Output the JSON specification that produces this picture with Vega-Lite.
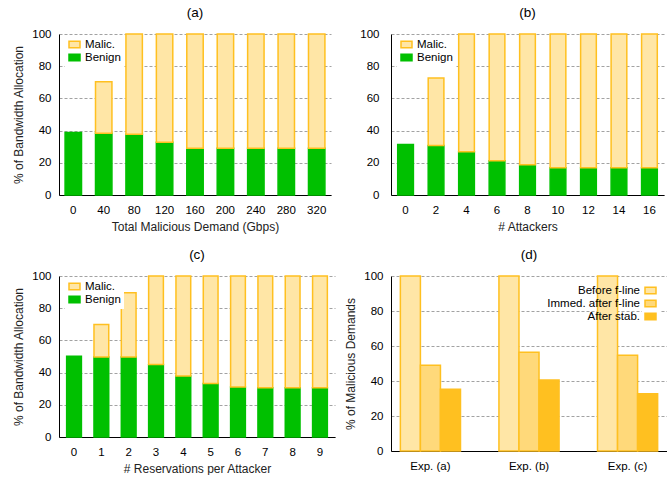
{
  "$schema": "https://vega.github.io/schema/vega-lite/v6.json",
  "padding": {"left": 12, "top": 5, "right": 0, "bottom": 0},
  "bounds": "flush",
  "columns": 2,
  "spacing": {"row": 81, "column": 56},
  "resolve": {"scale": {"fill": "independent", "stroke": "independent", "y": "independent", "x": "independent"}, "legend": {"fill": "independent", "stroke": "independent"}},
  "config": {
    "font": "Liberation Sans",
    "view": {"stroke": null},
    "title": {"fontSize": 13.5, "fontWeight": "normal", "color": "#000", "offset": 9},
    "axis": {
      "labelFontSize": 11.5, "titleFontSize": 12, "titleFontWeight": "normal",
      "labelColor": "#000", "titleColor": "#222", "domainColor": "#000", "domainWidth": 1,
      "ticks": false, "gridColor": "#8a8a8a", "gridDash": [3, 2], "gridWidth": 0.8
    },
    "axisX": {"grid": false, "labelPadding": 9, "titlePadding": 6, "labelAngle": 0},
    "axisY": {"labelPadding": 8, "titlePadding": 6},
    "legend": {"labelFontSize": 11.5, "labelColor": "#000", "fillColor": "#fff", "rowPadding": 0, "symbolStrokeWidth": 1.5}
  },
  "datasets": {
    "a": [
      {"x": "0", "s": "Benign", "v": 38.8},
      {"x": "40", "s": "Benign", "v": 38.4}, {"x": "40", "s": "Malic.", "v": 31.9},
      {"x": "80", "s": "Benign", "v": 37.7}, {"x": "80", "s": "Malic.", "v": 62.3},
      {"x": "120", "s": "Benign", "v": 32.8}, {"x": "120", "s": "Malic.", "v": 67.2},
      {"x": "160", "s": "Benign", "v": 29}, {"x": "160", "s": "Malic.", "v": 71},
      {"x": "200", "s": "Benign", "v": 29}, {"x": "200", "s": "Malic.", "v": 71},
      {"x": "240", "s": "Benign", "v": 29}, {"x": "240", "s": "Malic.", "v": 71},
      {"x": "280", "s": "Benign", "v": 29}, {"x": "280", "s": "Malic.", "v": 71},
      {"x": "320", "s": "Benign", "v": 29}, {"x": "320", "s": "Malic.", "v": 71}
    ],
    "b": [
      {"x": "0", "s": "Benign", "v": 31.3},
      {"x": "2", "s": "Benign", "v": 30.7}, {"x": "2", "s": "Malic.", "v": 41.9},
      {"x": "4", "s": "Benign", "v": 26.8}, {"x": "4", "s": "Malic.", "v": 73.2},
      {"x": "6", "s": "Benign", "v": 21.2}, {"x": "6", "s": "Malic.", "v": 78.8},
      {"x": "8", "s": "Benign", "v": 18.8}, {"x": "8", "s": "Malic.", "v": 81.2},
      {"x": "10", "s": "Benign", "v": 17}, {"x": "10", "s": "Malic.", "v": 83},
      {"x": "12", "s": "Benign", "v": 17}, {"x": "12", "s": "Malic.", "v": 83},
      {"x": "14", "s": "Benign", "v": 17}, {"x": "14", "s": "Malic.", "v": 83},
      {"x": "16", "s": "Benign", "v": 17}, {"x": "16", "s": "Malic.", "v": 83}
    ],
    "c": [
      {"x": "0", "s": "Benign", "v": 50.1},
      {"x": "1", "s": "Benign", "v": 49.7}, {"x": "1", "s": "Malic.", "v": 20.1},
      {"x": "2", "s": "Benign", "v": 49.7}, {"x": "2", "s": "Malic.", "v": 39.9},
      {"x": "3", "s": "Benign", "v": 45.1}, {"x": "3", "s": "Malic.", "v": 54.9},
      {"x": "4", "s": "Benign", "v": 37.9}, {"x": "4", "s": "Malic.", "v": 62.1},
      {"x": "5", "s": "Benign", "v": 33.3}, {"x": "5", "s": "Malic.", "v": 66.7},
      {"x": "6", "s": "Benign", "v": 31.1}, {"x": "6", "s": "Malic.", "v": 68.9},
      {"x": "7", "s": "Benign", "v": 30.6}, {"x": "7", "s": "Malic.", "v": 69.4},
      {"x": "8", "s": "Benign", "v": 30.6}, {"x": "8", "s": "Malic.", "v": 69.4},
      {"x": "9", "s": "Benign", "v": 30.6}, {"x": "9", "s": "Malic.", "v": 69.4}
    ],
    "d": [
      {"exp": "Exp. (a)", "s": "Before f-line", "v": 100},
      {"exp": "Exp. (a)", "s": "Immed. after f-line", "v": 49},
      {"exp": "Exp. (a)", "s": "After stab.", "v": 35.3},
      {"exp": "Exp. (b)", "s": "Before f-line", "v": 100},
      {"exp": "Exp. (b)", "s": "Immed. after f-line", "v": 56.4},
      {"exp": "Exp. (b)", "s": "After stab.", "v": 40.6},
      {"exp": "Exp. (c)", "s": "Before f-line", "v": 100},
      {"exp": "Exp. (c)", "s": "Immed. after f-line", "v": 54.7},
      {"exp": "Exp. (c)", "s": "After stab.", "v": 32.7}
    ]
  },
  "concat": [
    {
      "width": 272, "height": 161,
      "title": "(a)",
      "data": {"name": "a"},
      "mark": {"type": "bar", "strokeWidth": 1.5},
      "encoding": {
        "x": {"field": "x", "type": "ordinal", "sort": null, "scale": {"paddingInner": 0.46, "paddingOuter": 0.2}, "axis": {"title": "Total Malicious Demand (Gbps)"}},
        "y": {"field": "v", "type": "quantitative", "stack": "zero", "scale": {"domain": [0, 100], "nice": false}, "axis": {"title": "% of Bandwidth Allocation", "values": [0, 20, 40, 60, 80, 100]}},
        "fill": {"field": "s", "type": "nominal", "scale": {"domain": ["Malic.", "Benign"], "range": ["#ffe6a6", "#00c000"]}, "legend": {"title": null, "orient": "none", "legendX": 6, "legendY": 1, "padding": 3, "symbolType": "M-1,-0.6H1V0.6H-1Z", "symbolSize": 121}},
        "stroke": {"field": "s", "type": "nominal", "scale": {"domain": ["Malic.", "Benign"], "range": ["#ffc020", "#00c000"]}, "legend": {"title": null, "orient": "none", "legendX": 6, "legendY": 1, "padding": 3, "symbolType": "M-1,-0.6H1V0.6H-1Z", "symbolSize": 121}},
        "order": {"field": "s", "sort": "ascending"}
      }
    },
    {
      "width": 273, "height": 161,
      "title": "(b)",
      "data": {"name": "b"},
      "mark": {"type": "bar", "strokeWidth": 1.5},
      "encoding": {
        "x": {"field": "x", "type": "ordinal", "sort": null, "scale": {"paddingInner": 0.485, "paddingOuter": 0.22}, "axis": {"title": "# Attackers"}},
        "y": {"field": "v", "type": "quantitative", "stack": "zero", "scale": {"domain": [0, 100], "nice": false}, "axis": {"title": null, "values": [0, 20, 40, 60, 80, 100], "labelPadding": 12}},
        "fill": {"field": "s", "type": "nominal", "scale": {"domain": ["Malic.", "Benign"], "range": ["#ffe6a6", "#00c000"]}, "legend": {"title": null, "orient": "none", "legendX": 6, "legendY": 1, "padding": 3, "symbolType": "M-1,-0.6H1V0.6H-1Z", "symbolSize": 121}},
        "stroke": {"field": "s", "type": "nominal", "scale": {"domain": ["Malic.", "Benign"], "range": ["#ffc020", "#00c000"]}, "legend": {"title": null, "orient": "none", "legendX": 6, "legendY": 1, "padding": 3, "symbolType": "M-1,-0.6H1V0.6H-1Z", "symbolSize": 121}},
        "order": {"field": "s", "sort": "ascending"}
      }
    },
    {
      "width": 276, "height": 161,
      "title": "(c)",
      "data": {"name": "c"},
      "mark": {"type": "bar", "strokeWidth": 1.5},
      "encoding": {
        "x": {"field": "x", "type": "ordinal", "sort": null, "scale": {"paddingInner": 0.46, "paddingOuter": 0.28}, "axis": {"title": "# Reservations per Attacker"}},
        "y": {"field": "v", "type": "quantitative", "stack": "zero", "scale": {"domain": [0, 100], "nice": false}, "axis": {"title": "% of Bandwidth Allocation", "values": [0, 20, 40, 60, 80, 100]}},
        "fill": {"field": "s", "type": "nominal", "scale": {"domain": ["Malic.", "Benign"], "range": ["#ffe6a6", "#00c000"]}, "legend": {"title": null, "orient": "none", "legendX": 6, "legendY": 1, "padding": 3, "symbolType": "M-1,-0.6H1V0.6H-1Z", "symbolSize": 121}},
        "stroke": {"field": "s", "type": "nominal", "scale": {"domain": ["Malic.", "Benign"], "range": ["#ffc020", "#00c000"]}, "legend": {"title": null, "orient": "none", "legendX": 6, "legendY": 1, "padding": 3, "symbolType": "M-1,-0.6H1V0.6H-1Z", "symbolSize": 121}},
        "order": {"field": "s", "sort": "ascending"}
      }
    },
    {
      "width": 276, "height": 175,
      "title": "(d)",
      "data": {"name": "d"},
      "mark": {"type": "bar", "strokeWidth": 1.5},
      "encoding": {
        "x": {"field": "exp", "type": "nominal", "sort": null, "scale": {"paddingInner": 0.39, "paddingOuter": 0.095}, "axis": {"title": null}},
        "xOffset": {"field": "s", "type": "nominal", "scale": {"domain": ["Before f-line", "Immed. after f-line", "After stab."], "paddingInner": 0, "paddingOuter": 0}},
        "y": {"field": "v", "type": "quantitative", "scale": {"domain": [0, 100], "nice": false}, "axis": {"title": "% of Malicious Demands", "values": [0, 20, 40, 60, 80, 100]}},
        "fill": {"field": "s", "type": "nominal", "scale": {"domain": ["Before f-line", "Immed. after f-line", "After stab."], "range": ["#ffe6a6", "#ffd97a", "#ffc020"]}, "legend": {"title": null, "orient": "top-right", "offset": 6, "padding": 2, "labelAlign": "right", "labelOffset": -17, "symbolType": "M-1,-0.6H1V0.6H-1Z", "symbolSize": 121}},
        "stroke": {"field": "s", "type": "nominal", "scale": {"domain": ["Before f-line", "Immed. after f-line", "After stab."], "range": ["#ffc020", "#ffc020", "#ffc020"]}, "legend": {"title": null, "orient": "top-right", "offset": 6, "padding": 2, "labelAlign": "right", "labelOffset": -17, "symbolType": "M-1,-0.6H1V0.6H-1Z", "symbolSize": 121}}
      }
    }
  ]
}
